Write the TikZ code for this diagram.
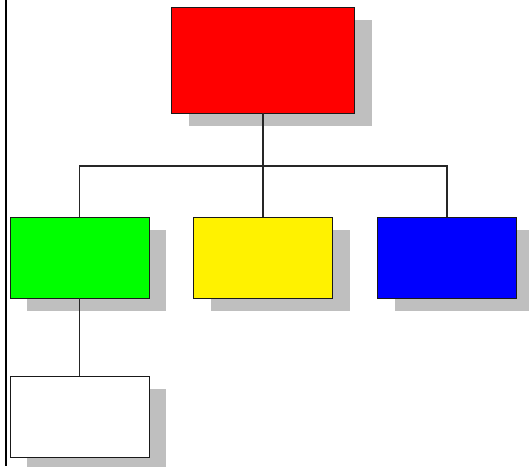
\documentclass[tikz,border=0pt]{standalone}
\usepackage{amsmath}
\usepackage{tikz}
\usetikzlibrary{shadows}

\begin{document}
\begin{tikzpicture}[x=1pt,y=-1pt,
    orgbox/.style={draw=black!90,line width=0.9pt,minimum width=139pt,minimum height=81pt,inner sep=0pt,
      drop shadow={shadow xshift=17pt,shadow yshift=-13pt,fill=black!25,opacity=1}},
    link/.style={line width=1.2pt,black!85}]
  \useasboundingbox (0,0) rectangle (529,466);
    \draw[line width=1.3pt] (6,0) -- (6,466);
    \node[orgbox,fill=red,minimum width=183pt,minimum height=106pt] (boss) at (263,60) {};
    \node[orgbox,fill=green] (left) at (79.5,257.5) {};
    \node[orgbox,fill=yellow] (mid) at (263,257.5) {};
    \node[orgbox,fill=blue] (right) at (447,257.5) {};
    \node[orgbox,fill=white] (sub) at (79.5,416.5) {};
    \coordinate (hub) at (263,166);
    \draw[link] (boss) -- (hub);
    \draw[link] (left) |- (hub) -| (right);
    \draw[link] (hub) -- (mid);
    \draw[link] (left) -- (sub);
  \end{tikzpicture}
\end{document}
